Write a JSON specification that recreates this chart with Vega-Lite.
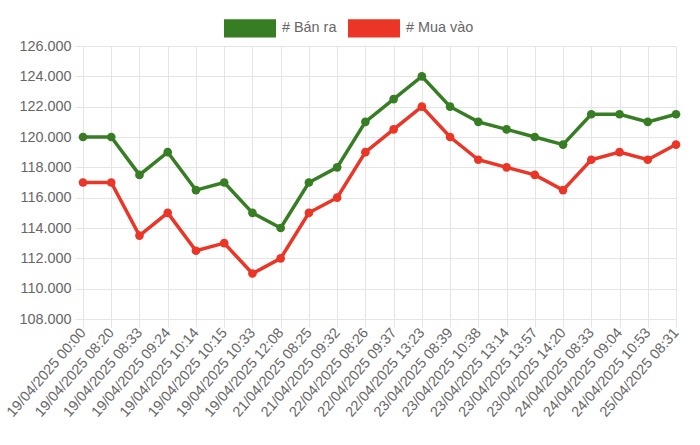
{
  "$schema": "https://vega.github.io/schema/vega-lite/v6.json",
  "background": "white",
  "autosize": "none",
  "width": 593,
  "height": 273,
  "padding": {"left": 83, "top": 46, "right": 24, "bottom": 126},
  "datasets": {
    "prices": [
      {"time": "19/04/2025 00:00", "ban": 120000, "mua": 117000},
      {"time": "19/04/2025 08:20", "ban": 120000, "mua": 117000},
      {"time": "19/04/2025 08:33", "ban": 117500, "mua": 113500},
      {"time": "19/04/2025 09:24", "ban": 119000, "mua": 115000},
      {"time": "19/04/2025 10:14", "ban": 116500, "mua": 112500},
      {"time": "19/04/2025 10:15", "ban": 117000, "mua": 113000},
      {"time": "19/04/2025 10:33", "ban": 115000, "mua": 111000},
      {"time": "19/04/2025 12:08", "ban": 114000, "mua": 112000},
      {"time": "21/04/2025 08:25", "ban": 117000, "mua": 115000},
      {"time": "21/04/2025 09:32", "ban": 118000, "mua": 116000},
      {"time": "22/04/2025 08:26", "ban": 121000, "mua": 119000},
      {"time": "22/04/2025 09:37", "ban": 122500, "mua": 120500},
      {"time": "22/04/2025 13:23", "ban": 124000, "mua": 122000},
      {"time": "23/04/2025 08:39", "ban": 122000, "mua": 120000},
      {"time": "23/04/2025 10:38", "ban": 121000, "mua": 118500},
      {"time": "23/04/2025 13:14", "ban": 120500, "mua": 118000},
      {"time": "23/04/2025 13:57", "ban": 120000, "mua": 117500},
      {"time": "23/04/2025 14:20", "ban": 119500, "mua": 116500},
      {"time": "24/04/2025 08:33", "ban": 121500, "mua": 118500},
      {"time": "24/04/2025 09:04", "ban": 121500, "mua": 119000},
      {"time": "24/04/2025 10:53", "ban": 121000, "mua": 118500},
      {"time": "25/04/2025 08:31", "ban": 121500, "mua": 119500}
    ]
  },
  "data": {"name": "prices"},
  "transform": [
    {"fold": ["ban", "mua"], "as": ["key", "value"]},
    {"calculate": "datum.key == 'ban' ? '# Bán ra' : '# Mua vào'", "as": "series"}
  ],
  "encoding": {
    "x": {
      "field": "time",
      "type": "ordinal",
      "sort": null,
      "title": null,
      "scale": {"type": "point", "padding": 0},
      "axis": {
        "labelAngle": -49,
        "labelAlign": "right",
        "labelBaseline": "middle",
        "labelPadding": 3,
        "labelFontSize": 14.4,
        "labelColor": "#666666",
        "labelFont": "Liberation Sans",
        "tickSize": 8,
        "tickColor": "#e5e5e5",
        "domain": false,
        "grid": true,
        "gridColor": "#e5e5e5"
      }
    },
    "y": {
      "field": "value",
      "type": "quantitative",
      "title": null,
      "scale": {"domain": [108000, 126000], "nice": false, "zero": false},
      "axis": {
        "values": [108000, 110000, 112000, 114000, 116000, 118000, 120000, 122000, 124000, 126000],
        "labelExpr": "replace(format(datum.value, ','), ',', '.')",
        "labelFontSize": 14.4,
        "labelColor": "#666666",
        "labelFont": "Liberation Sans",
        "labelPadding": 4,
        "tickSize": 8,
        "tickColor": "#e5e5e5",
        "domainColor": "#e5e5e5",
        "grid": true,
        "gridColor": "#e5e5e5"
      }
    },
    "color": {
      "field": "series",
      "type": "nominal",
      "scale": {"domain": ["# Bán ra", "# Mua vào"], "range": ["#367d23", "#ea3527"]},
      "legend": {
        "title": null,
        "orient": "none",
        "direction": "horizontal",
        "legendX": 141,
        "legendY": -44,
        "symbolType": "M-1,-0.35L1,-0.35L1,0.35L-1,0.35Z",
        "symbolSize": 2704,
        "symbolStrokeWidth": 0,
        "symbolOpacity": 1,
        "labelFontSize": 14.4,
        "labelColor": "#666666",
        "labelFont": "Liberation Sans",
        "labelOffset": 6,
        "columnPadding": 11
      }
    }
  },
  "layer": [
    {"mark": {"type": "line", "strokeWidth": 3.5}},
    {"mark": {"type": "point", "filled": true, "opacity": 1, "size": 75}}
  ],
  "config": {
    "view": {"stroke": null}
  }
}
